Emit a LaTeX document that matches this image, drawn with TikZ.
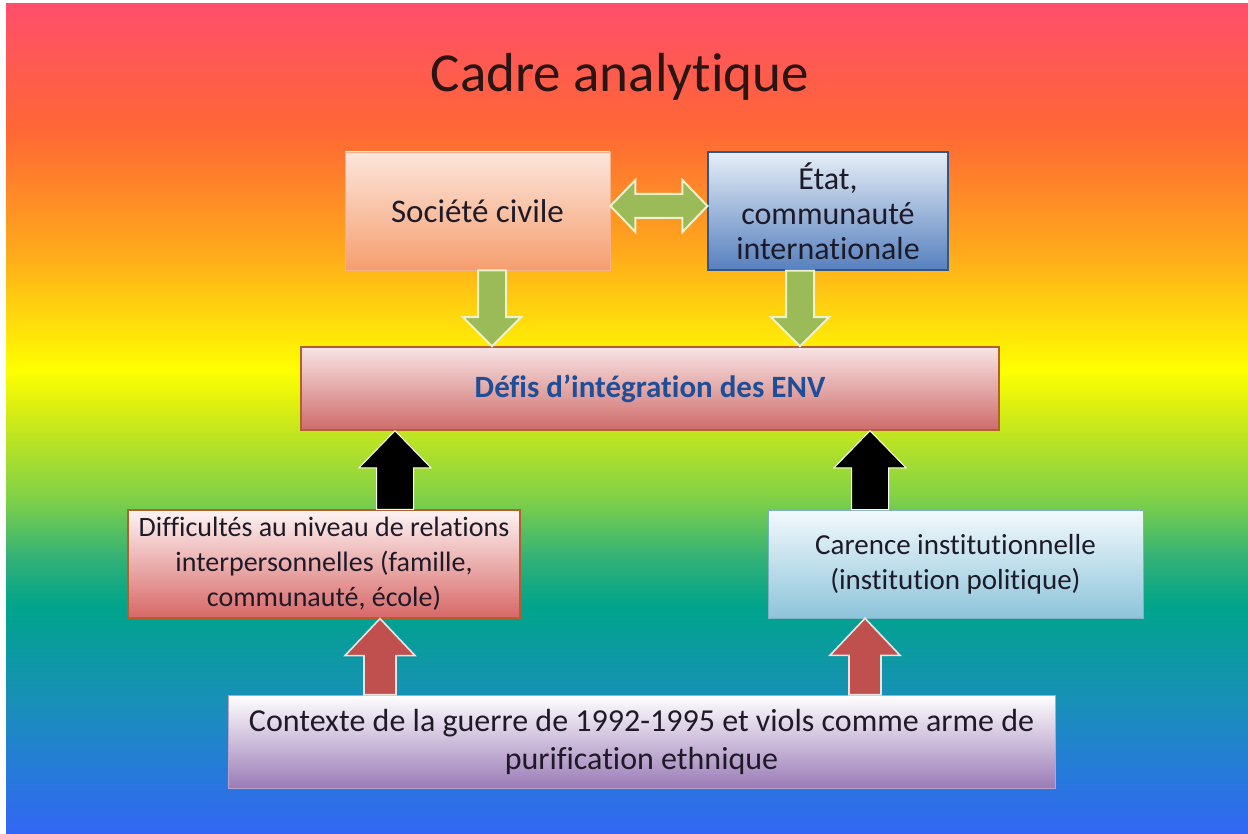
\documentclass[tikz,border=0pt]{standalone}
\usepackage{fontspec}
\setmainfont{Carlito}[Ligatures=NoCommon]
\usetikzlibrary{calc}

\definecolor{bgA}{HTML}{FF4E6B}
\definecolor{bgB}{HTML}{FF6735}
\definecolor{bgC}{HTML}{FFA81C}
\definecolor{bgD}{HTML}{FFFF00}
\definecolor{bgE}{HTML}{D4EC14}
\definecolor{bgF}{HTML}{7ED048}
\definecolor{bgG}{HTML}{30B078}
\definecolor{bgH}{HTML}{00A48C}
\definecolor{bgI}{HTML}{1890B8}
\definecolor{bgJ}{HTML}{2878DD}
\definecolor{bgK}{HTML}{3366F5}

\definecolor{socTop}{HTML}{FCE6DC}
\definecolor{socBot}{HTML}{F59E6E}
\definecolor{etatTop}{HTML}{E6EEF7}
\definecolor{etatBot}{HTML}{5680BE}
\definecolor{etatLine}{HTML}{34578A}
\definecolor{defTop}{HTML}{F8E4E4}
\definecolor{defBot}{HTML}{CE6C6A}
\definecolor{defLine}{HTML}{B4602E}
\definecolor{difTop}{HTML}{FDF4F3}
\definecolor{difBot}{HTML}{D86867}
\definecolor{carTop}{HTML}{F3FAFD}
\definecolor{carBot}{HTML}{8DC4DA}
\definecolor{ctxTop}{HTML}{FFFFFF}
\definecolor{ctxBot}{HTML}{9B7BB7}
\definecolor{txtDark}{HTML}{1E1A28}
\definecolor{titleDark}{HTML}{2A1414}
\definecolor{defText}{HTML}{1F4E98}
\definecolor{arrGreen}{HTML}{9BBB59}
\definecolor{arrGreenLine}{HTML}{EEF2CC}
\definecolor{arrRed}{HTML}{C0504D}
\definecolor{arrRedLine}{HTML}{ECE4E4}

\pgfdeclareverticalshading{rainbowbg}{100bp}{color(0bp)=(bgK); color(25bp)=(bgK); color(28.25bp)=(bgJ); color(33.07bp)=(bgI); color(38.67bp)=(bgH); color(41.51bp)=(bgG); color(45.12bp)=(bgF); color(50.30bp)=(bgE); color(52.95bp)=(bgD); color(60.18bp)=(bgC); color(67.41bp)=(bgB); color(75bp)=(bgA); color(100bp)=(bgA)}

% vertical block arrow pointing down: #1 style, #2 start, #3 tip, #4 shaft half, #5 head half, #6 head length
\newcommand{\downblock}[6]{\path[#1] let \p1=(#2), \p2=(#3) in
  (\x1-#4,\y1) -- (\x1-#4,\y2+#6) -- (\x1-#5,\y2+#6) -- (\x1,\y2) --
  (\x1+#5,\y2+#6) -- (\x1+#4,\y2+#6) -- (\x1+#4,\y1) -- cycle;}
% vertical block arrow pointing up
\newcommand{\upblock}[6]{\path[#1] let \p1=(#2), \p2=(#3) in
  (\x1-#4,\y1) -- (\x1-#4,\y2-#6) -- (\x1-#5,\y2-#6) -- (\x1,\y2) --
  (\x1+#5,\y2-#6) -- (\x1+#4,\y2-#6) -- (\x1+#4,\y1) -- cycle;}
% horizontal double block arrow
\newcommand{\hdblock}[6]{\path[#1] let \p1=(#2), \p2=(#3) in
  (\x1,\y1) -- (\x1+#6,\y1+#5) -- (\x1+#6,\y1+#4) -- (\x2-#6,\y1+#4) --
  (\x2-#6,\y1+#5) -- (\x2,\y1) -- (\x2-#6,\y1-#5) -- (\x2-#6,\y1-#4) --
  (\x1+#6,\y1-#4) -- (\x1+#6,\y1-#5) -- cycle;}

\begin{document}
\begin{tikzpicture}[x=0.5pt,y=-0.5pt,
  boxbase/.style={rectangle, inner sep=0pt, align=center, text=txtDark,
    font=\fontsize{16}{17.5}\selectfont},
  smalltext/.style={font=\fontsize{14}{17.5}\selectfont},
  titletext/.style={text=titleDark, inner sep=0pt, font=\fontsize{27.5}{33}\selectfont},
  greenarrow/.style={fill=arrGreen, draw=arrGreenLine, line width=1pt, line join=miter},
  blackarrow/.style={fill=black, draw=white, line width=0.5pt},
  redarrow/.style={fill=arrRed, draw=arrRedLine, line width=0.8pt},
]
\useasboundingbox (0,0) rectangle (1248,834);
\fill[white] (0,0) rectangle (1248,834);
\shade[shading=rainbowbg] (6,4) rectangle (1248,834);

\node[titletext, anchor=base] (title) at (620,92) {Cadre analytique};

\node[boxbase, top color=socTop, bottom color=socBot, draw=socBot!80!white, line width=0.4pt,
  minimum width=132.5pt, minimum height=59pt, font=\fontsize{16.5}{17.5}\selectfont] (soc) at (477.5,211) {Société civile};
\node[boxbase, top color=etatTop, bottom color=etatBot, draw=etatLine, line width=0.6pt,
  minimum width=120pt, minimum height=59pt] (etat) at (828,211)
  {État,\\communauté\\internationale};

\node[boxbase, top color=defTop, bottom color=defBot, draw=defLine, line width=0.8pt,
  minimum width=349pt, minimum height=41.5pt, text=defText,
  font=\fontsize{15.5}{18}\selectfont\bfseries] (defis) at (650,388.5)
  {Défis d’intégration des ENV};

\node[boxbase, smalltext, top color=difTop, bottom color=difBot, draw=defLine, line width=0.6pt,
  minimum width=196pt, minimum height=54pt] (dif) at (324,564)
  {Difficultés au niveau de relations\\interpersonnelles (famille,\\communauté, école)};

\node[boxbase, top color=carTop, bottom color=carBot, draw=carBot!90!black, line width=0.3pt,
  font=\fontsize{14.5}{17.5}\selectfont,
  minimum width=187.5pt, minimum height=54pt] (car) at (955.5,564)
  {Carence institutionnelle\\(institution politique)};

\node[boxbase, top color=ctxTop, bottom color=ctxBot, draw=ctxBot!70!white, line width=0.3pt,
  font=\fontsize{16}{19}\selectfont,
  minimum width=413.5pt, minimum height=46.5pt] (ctx) at (641.5,741.5)
  {Contexte de la guerre de 1992-1995 et viols comme arme de\\purification ethnique};

% arrow axes
\coordinate (dy) at (0,206);
\coordinate (gL) at (492,0);
\coordinate (gR) at (800,0);
\coordinate (bL) at (395,0);
\coordinate (bR) at (870,0);
\coordinate (rL) at (380,0);
\coordinate (rR) at (865,0);

\hdblock{greenarrow}{soc.east |- dy}{etat.west |- dy}{6pt}{13pt}{12.5pt}
\downblock{greenarrow}{gL |- soc.south}{gL |- defis.north}{7pt}{14.5pt}{14.5pt}
\downblock{greenarrow}{gR |- etat.south}{gR |- defis.north}{7pt}{14.5pt}{14.5pt}
\upblock{blackarrow}{bL |- dif.north}{bL |- defis.south}{9.25pt}{18pt}{18.5pt}
\upblock{blackarrow}{bR |- car.north}{bR |- defis.south}{9.25pt}{18pt}{18.5pt}
\upblock{redarrow}{rL |- ctx.north}{rL |- dif.south}{8pt}{17.5pt}{18.5pt}
\upblock{redarrow}{rR |- ctx.north}{rR |- car.south}{8pt}{17.5pt}{18.5pt}
\end{tikzpicture}
\end{document}
